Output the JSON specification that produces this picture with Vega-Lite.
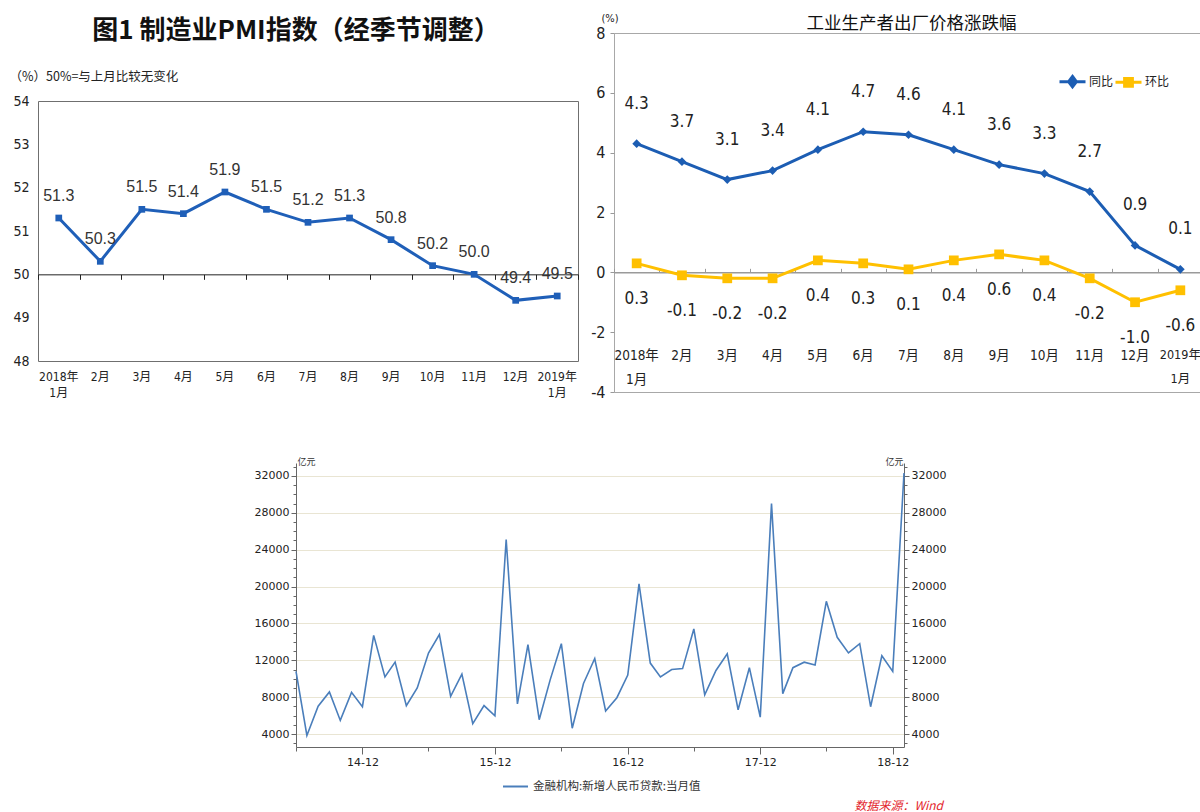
{
  "$schema": "https://vega.github.io/schema/vega-lite/v6.json",
  "background": "white",
  "padding": {"left": 8, "top": 11, "right": 0, "bottom": 0},
  "config": {
    "view": {"stroke": null},
    "font": "Noto Sans CJK SC",
    "axis": {"titleFontWeight": "normal"},
    "locale": {"number": {"decimal": ".", "thousands": ",", "grouping": [3], "currency": ["", ""], "minus": "-"}}
  },
  "datasets": {
    "pmi": [
      {"m": "2018年|1月", "v": 51.3},
      {"m": "2月", "v": 50.3},
      {"m": "3月", "v": 51.5},
      {"m": "4月", "v": 51.4},
      {"m": "5月", "v": 51.9},
      {"m": "6月", "v": 51.5},
      {"m": "7月", "v": 51.2},
      {"m": "8月", "v": 51.3},
      {"m": "9月", "v": 50.8},
      {"m": "10月", "v": 50.2},
      {"m": "11月", "v": 50.0},
      {"m": "12月", "v": 49.4},
      {"m": "2019年|1月", "v": 49.5}
    ],
    "ppi": [
      {"m": "2018年|1月", "s": "同比", "v": 4.3},
      {"m": "2月", "s": "同比", "v": 3.7},
      {"m": "3月", "s": "同比", "v": 3.1},
      {"m": "4月", "s": "同比", "v": 3.4},
      {"m": "5月", "s": "同比", "v": 4.1},
      {"m": "6月", "s": "同比", "v": 4.7},
      {"m": "7月", "s": "同比", "v": 4.6},
      {"m": "8月", "s": "同比", "v": 4.1},
      {"m": "9月", "s": "同比", "v": 3.6},
      {"m": "10月", "s": "同比", "v": 3.3},
      {"m": "11月", "s": "同比", "v": 2.7},
      {"m": "12月", "s": "同比", "v": 0.9},
      {"m": "2019年|1月", "s": "同比", "v": 0.1},
      {"m": "2018年|1月", "s": "环比", "v": 0.3},
      {"m": "2月", "s": "环比", "v": -0.1},
      {"m": "3月", "s": "环比", "v": -0.2},
      {"m": "4月", "s": "环比", "v": -0.2},
      {"m": "5月", "s": "环比", "v": 0.4},
      {"m": "6月", "s": "环比", "v": 0.3},
      {"m": "7月", "s": "环比", "v": 0.1},
      {"m": "8月", "s": "环比", "v": 0.4},
      {"m": "9月", "s": "环比", "v": 0.6},
      {"m": "10月", "s": "环比", "v": 0.4},
      {"m": "11月", "s": "环比", "v": -0.2},
      {"m": "12月", "s": "环比", "v": -1.0},
      {"m": "2019年|1月", "s": "环比", "v": -0.6}
    ],
    "loans": [
      {"d": "2014/06/01", "v": 10800}, {"d": "2014/07/01", "v": 3852}, {"d": "2014/08/01", "v": 7025},
      {"d": "2014/09/01", "v": 8572}, {"d": "2014/10/01", "v": 5483}, {"d": "2014/11/01", "v": 8527},
      {"d": "2014/12/01", "v": 6973}, {"d": "2015/01/01", "v": 14708}, {"d": "2015/02/01", "v": 10200},
      {"d": "2015/03/01", "v": 11800}, {"d": "2015/04/01", "v": 7079}, {"d": "2015/05/01", "v": 9008},
      {"d": "2015/06/01", "v": 12793}, {"d": "2015/07/01", "v": 14800}, {"d": "2015/08/01", "v": 8096},
      {"d": "2015/09/01", "v": 10500}, {"d": "2015/10/01", "v": 5136}, {"d": "2015/11/01", "v": 7089},
      {"d": "2015/12/01", "v": 5978}, {"d": "2016/01/01", "v": 25100}, {"d": "2016/02/01", "v": 7266},
      {"d": "2016/03/01", "v": 13700}, {"d": "2016/04/01", "v": 5556}, {"d": "2016/05/01", "v": 9855},
      {"d": "2016/06/01", "v": 13800}, {"d": "2016/07/01", "v": 4636}, {"d": "2016/08/01", "v": 9487},
      {"d": "2016/09/01", "v": 12200}, {"d": "2016/10/01", "v": 6513}, {"d": "2016/11/01", "v": 7946},
      {"d": "2016/12/01", "v": 10400}, {"d": "2017/01/01", "v": 20300}, {"d": "2017/02/01", "v": 11700},
      {"d": "2017/03/01", "v": 10200}, {"d": "2017/04/01", "v": 11000}, {"d": "2017/05/01", "v": 11100},
      {"d": "2017/06/01", "v": 15400}, {"d": "2017/07/01", "v": 8255}, {"d": "2017/08/01", "v": 10900},
      {"d": "2017/09/01", "v": 12700}, {"d": "2017/10/01", "v": 6632}, {"d": "2017/11/01", "v": 11200},
      {"d": "2017/12/01", "v": 5844}, {"d": "2018/01/01", "v": 29000}, {"d": "2018/02/01", "v": 8393},
      {"d": "2018/03/01", "v": 11200}, {"d": "2018/04/01", "v": 11800}, {"d": "2018/05/01", "v": 11500},
      {"d": "2018/06/01", "v": 18400}, {"d": "2018/07/01", "v": 14500}, {"d": "2018/08/01", "v": 12800},
      {"d": "2018/09/01", "v": 13800}, {"d": "2018/10/01", "v": 6970}, {"d": "2018/11/01", "v": 12500},
      {"d": "2018/12/01", "v": 10800}, {"d": "2019/01/01", "v": 32300}
    ]
  },
  "spacing": 56,
  "center": true,
  "resolve": {"scale": {"color": "independent"}, "legend": {"color": "independent"}},
  "vconcat": [
    {
      "spacing": 11,
      "resolve": {"scale": {"color": "independent"}, "legend": {"color": "independent"}},
      "hconcat": [
        {
          "spacing": 25,
          "vconcat": [
            {
              "width": 540,
              "height": 10,
              "view": {"stroke": null},
              "title": {
                "text": "图1 制造业PMI指数（经季节调整）",
                "font": "Noto Sans CJK SC",
                "fontSize": 26,
                "fontWeight": "bold",
                "color": "#111111",
                "anchor": "middle",
                "frame": "group",
                "dx": -12,
                "offset": -11
              },
              "data": {"values": []},
              "mark": {"type": "text"},
              "encoding": {}
            },
            {
              "width": 540,
              "height": 260,
              "view": {"stroke": "#6f6f6f", "strokeWidth": 1},
              "data": {"name": "pmi"},
              "layer": [
                {
                  "mark": {
                    "type": "line",
                    "color": "#1F5FB8",
                    "strokeWidth": 3,
                    "point": {"shape": "square", "size": 45, "filled": true, "color": "#1F5FB8"}
                  },
                  "encoding": {
                    "x": {
                      "field": "m",
                      "type": "nominal",
                      "sort": null,
                      "scale": {"type": "band", "paddingInner": 0, "paddingOuter": 0},
                      "axis": {
                        "orient": "bottom",
                        "title": null,
                        "domain": false,
                        "ticks": false,
                        "labelAngle": 0,
                        "labelExpr": "split(datum.value, '|')",
                        "labelFont": "Liberation Sans Narrow, DejaVu Sans Condensed, Noto Sans CJK SC, sans-serif",
                        "labelFontSize": 12,
                        "labelColor": "#222222",
                        "labelBaseline": "top",
                        "labelLineHeight": 16,
                        "labelPadding": 10
                      }
                    },
                    "y": {
                      "field": "v",
                      "type": "quantitative",
                      "scale": {"domain": [48, 54], "nice": false, "zero": false},
                      "axis": {
                        "values": [48, 49, 50, 51, 52, 53, 54],
                        "grid": false,
                        "domain": false,
                        "ticks": false,
                        "labelFont": "Liberation Sans Narrow, DejaVu Sans Condensed, sans-serif",
                        "labelFontSize": 14,
                        "labelColor": "#222222",
                        "labelPadding": 9,
                        "title": "（%）50%=与上月比较无变化",
                        "titleFont": "Noto Sans CJK SC",
                        "titleFontSize": 12.5,
                        "titleColor": "#222222",
                        "titleAngle": 0,
                        "titleAlign": "left",
                        "titleBaseline": "middle",
                        "titleX": -29,
                        "titleY": -25
                      }
                    }
                  }
                },
                {
                  "mark": {"type": "text", "dy": -22, "font": "Liberation Sans, Arial, sans-serif", "fontSize": 16, "color": "#333333"},
                  "encoding": {
                    "x": {
                      "field": "m",
                      "type": "nominal",
                      "sort": null,
                      "axis": {
                        "orient": "bottom",
                        "offset": -86.67,
                        "title": null,
                        "labels": false,
                        "domain": true,
                        "domainColor": "#222222",
                        "domainWidth": 1,
                        "ticks": true,
                        "tickBand": "extent",
                        "tickSize": 5,
                        "tickColor": "#222222"
                      }
                    },
                    "y": {"field": "v", "type": "quantitative"},
                    "text": {"field": "v", "type": "quantitative", "format": ".1f"}
                  }
                }
              ],
              "resolve": {"axis": {"x": "independent"}}
            }
          ]
        },
        {
          "width": 589,
          "height": 359,
          "view": {"stroke": "#a8a8a8", "strokeWidth": 1},
          "title": {
            "text": "工业生产者出厂价格涨跌幅",
            "font": "Noto Sans CJK SC",
            "fontSize": 17.5,
            "fontWeight": "normal",
            "color": "#111111",
            "anchor": "middle",
            "frame": "group",
            "dx": 3,
            "offset": -20
          },
          "data": {"name": "ppi"},
          "layer": [
            {
              "mark": {"type": "line", "strokeWidth": 3},
              "encoding": {
                "x": {
                  "field": "m",
                  "type": "nominal",
                  "sort": null,
                  "scale": {"type": "band", "paddingInner": 0, "paddingOuter": 0},
                  "axis": {
                    "orient": "bottom",
                    "offset": -44,
                    "title": null,
                    "domain": false,
                    "ticks": false,
                    "labelAngle": 0,
                    "labelExpr": "split(datum.value, '|')",
                    "labelFont": "Liberation Sans Narrow, DejaVu Sans Condensed, Noto Sans CJK SC, sans-serif",
                    "labelFontSize": {"condition": {"test": "datum.value === '2019年|1月'", "value": 12.5}, "value": 13.5},
                    "labelColor": "#222222",
                    "labelBaseline": "top",
                    "labelLineHeight": 24,
                    "labelPadding": 0
                  }
                },
                "y": {
                  "field": "v",
                  "type": "quantitative",
                  "scale": {"domain": [-4, 8], "nice": false, "zero": false},
                  "axis": {
                    "values": [-4, -2, 0, 2, 4, 6, 8],
                    "grid": false,
                    "domain": false,
                    "ticks": true,
                    "tickSize": 4,
                    "tickColor": "#999999",
                    "labelFont": "Liberation Sans Narrow, DejaVu Sans Condensed, sans-serif",
                    "labelFontSize": 16,
                    "labelColor": "#222222",
                    "labelPadding": 5,
                    "title": "(%)",
                    "titleFont": "Liberation Sans Narrow, DejaVu Sans Condensed, sans-serif",
                    "titleFontSize": 11,
                    "titleColor": "#222222",
                    "titleAngle": 0,
                    "titleAlign": "left",
                    "titleBaseline": "middle",
                    "titleX": -13,
                    "titleY": -15
                  }
                },
                "color": {
                  "field": "s",
                  "type": "nominal",
                  "scale": {"domain": ["同比", "环比"], "range": ["#1C5DB3", "#FFC000"]},
                  "legend": {
                    "orient": "none",
                    "legendX": 444,
                    "legendY": 34,
                    "direction": "horizontal",
                    "title": null,
                    "symbolSize": 676,
                    "symbolStrokeWidth": 3,
                    "columnPadding": -6,
                    "labelOffset": 2,
                    "labelFont": "Noto Sans CJK SC",
                    "labelFontSize": 12,
                    "labelColor": "#222222",
                    "encode": {
                      "symbols": {
                        "update": {
                          "shape": {"signal": "datum.value === '同比' ? 'M-1,0H1M0,-0.4L0.3,0L0,0.4L-0.3,0Z' : 'M-1,0H1M-0.3,-0.3H0.3V0.3H-0.3Z'"},
                          "fill": {"signal": "datum.value === '同比' ? '#1C5DB3' : '#FFC000'"},
                          "stroke": {"signal": "datum.value === '同比' ? '#1C5DB3' : '#FFC000'"},
                          "strokeWidth": {"value": 3},
                          "opacity": {"value": 1}
                        }
                      }
                    }
                  }
                }
              }
            },
            {
              "transform": [{"filter": "datum.s === '同比'"}],
              "mark": {"type": "point", "shape": "diamond", "filled": true, "opacity": 1, "size": 75, "color": "#1C5DB3"},
              "encoding": {
                "x": {"field": "m", "type": "nominal", "sort": null, "axis": null},
                "y": {"field": "v", "type": "quantitative"}
              }
            },
            {
              "transform": [{"filter": "datum.s === '环比'"}],
              "mark": {"type": "point", "shape": "square", "filled": true, "opacity": 1, "size": 95, "color": "#FFC000"},
              "encoding": {
                "x": {"field": "m", "type": "nominal", "sort": null, "axis": null},
                "y": {"field": "v", "type": "quantitative"}
              }
            },
            {
              "transform": [{"filter": "datum.s === '同比'"}],
              "mark": {"type": "text", "dy": -40, "font": "Liberation Sans Narrow, DejaVu Sans Condensed, sans-serif", "fontSize": 17, "color": "#222222"},
              "encoding": {
                "x": {
                  "field": "m",
                  "type": "nominal",
                  "sort": null,
                  "axis": {
                    "orient": "top",
                    "offset": -239.33,
                    "title": null,
                    "labels": false,
                    "domain": true,
                    "domainColor": "#9a9a9a",
                    "domainWidth": 1.5,
                    "ticks": true,
                    "tickBand": "extent",
                    "tickSize": 4,
                    "tickColor": "#9a9a9a"
                  }
                },
                "y": {"field": "v", "type": "quantitative"},
                "text": {"field": "v", "type": "quantitative", "format": ".1f"}
              }
            },
            {
              "transform": [{"filter": "datum.s === '环比'"}],
              "mark": {"type": "text", "dy": 36, "font": "Liberation Sans Narrow, DejaVu Sans Condensed, sans-serif", "fontSize": 17, "color": "#222222"},
              "encoding": {
                "x": {"field": "m", "type": "nominal", "sort": null, "axis": null},
                "y": {"field": "v", "type": "quantitative"},
                "text": {"field": "v", "type": "quantitative", "format": ".1f"}
              }
            }
          ],
          "resolve": {"axis": {"x": "independent"}}
        }
      ]
    },
    {
      "width": 608,
      "height": 284,
      "view": {"stroke": null},
      "title": {
        "text": "数据来源：Wind",
        "orient": "bottom",
        "anchor": "end",
        "frame": "group",
        "font": "Noto Sans CJK SC",
        "fontSize": 12,
        "fontStyle": "italic",
        "fontWeight": "normal",
        "color": "#E3262D",
        "dx": 39,
        "offset": 9
      },
      "data": {"name": "loans"},
      "layer": [
        {
          "mark": {"type": "line", "strokeWidth": 1.6},
          "encoding": {
            "x": {
              "field": "d",
              "type": "temporal",
              "scale": {"domain": [{"year": 2014, "month": 6, "date": 1}, {"year": 2019, "month": 1, "date": 1}]},
              "axis": {
                "title": null,
                "grid": false,
                "values": [
                  {"year": 2014, "month": 6, "date": 1}, {"year": 2014, "month": 9, "date": 1}, {"year": 2014, "month": 12, "date": 1},
                  {"year": 2015, "month": 3, "date": 1}, {"year": 2015, "month": 6, "date": 1}, {"year": 2015, "month": 9, "date": 1}, {"year": 2015, "month": 12, "date": 1},
                  {"year": 2016, "month": 3, "date": 1}, {"year": 2016, "month": 6, "date": 1}, {"year": 2016, "month": 9, "date": 1}, {"year": 2016, "month": 12, "date": 1},
                  {"year": 2017, "month": 3, "date": 1}, {"year": 2017, "month": 6, "date": 1}, {"year": 2017, "month": 9, "date": 1}, {"year": 2017, "month": 12, "date": 1},
                  {"year": 2018, "month": 3, "date": 1}, {"year": 2018, "month": 6, "date": 1}, {"year": 2018, "month": 9, "date": 1}, {"year": 2018, "month": 12, "date": 1}
                ],
                "labelExpr": "month(datum.value) == 11 ? timeFormat(datum.value, '%y-%m') : ''",
                "labelFont": "DejaVu Sans, Verdana, sans-serif",
                "labelFontSize": 11,
                "labelColor": "#222222",
                "labelPadding": 2,
                "labelFlush": false,
                "labelOverlap": false,
                "domainColor": "#666666",
                "tickColor": "#666666",
                "tickSize": {"condition": {"test": "month(datum.value) == 11", "value": 7}, "value": 4}
              }
            },
            "y": {
              "field": "v",
              "type": "quantitative",
              "scale": {"domain": [2600, 33400], "nice": false, "zero": false},
              "axis": {
                "orient": "left",
                "values": [3000, 4000, 5000, 6000, 7000, 8000, 9000, 10000, 11000, 12000, 13000, 14000, 15000, 16000, 17000, 18000, 19000, 20000, 21000, 22000, 23000, 24000, 25000, 26000, 27000, 28000, 29000, 30000, 31000, 32000, 33000],
                "format": "d",
                "labelExpr": "datum.value % 4000 == 0 ? datum.label : ''",
                "labelFont": "DejaVu Sans, Verdana, sans-serif",
                "labelFontSize": 11,
                "labelColor": "#222222",
                "labelPadding": 2,
                "labelOverlap": false,
                "domainColor": "#666666",
                "tickColor": "#666666",
                "tickSize": {"condition": {"test": "datum.value % 4000 == 0", "value": 5}, "value": 3},
                "grid": true,
                "gridColor": "#E9E5D3",
                "gridWidth": 1,
                "gridOpacity": {"condition": {"test": "datum.value % 4000 == 0", "value": 1}, "value": 0},
                "title": "亿元",
                "titleFont": "Noto Sans CJK SC",
                "titleFontSize": 9,
                "titleColor": "#333333",
                "titleAngle": 0,
                "titleAlign": "left",
                "titleBaseline": "bottom",
                "titleX": 1,
                "titleY": 3
              }
            },
            "color": {
              "datum": "金融机构:新增人民币贷款:当月值",
              "type": "nominal",
              "scale": {"range": ["#4A7EBB"]},
              "legend": {
                "orient": "none",
                "legendX": 206,
                "legendY": 310,
                "title": null,
                "symbolType": "stroke",
                "symbolSize": 625,
                "symbolStrokeWidth": 2,
                "labelOffset": 4,
                "labelLimit": 0,
                "labelFont": "Noto Sans CJK SC",
                "labelFontSize": 11.5,
                "labelColor": "#333333"
              }
            }
          }
        },
        {
          "mark": {"type": "line", "opacity": 0},
          "encoding": {
            "x": {"field": "d", "type": "temporal"},
            "y": {
              "field": "v",
              "type": "quantitative",
              "axis": {
                "orient": "right",
                "values": [3000, 4000, 5000, 6000, 7000, 8000, 9000, 10000, 11000, 12000, 13000, 14000, 15000, 16000, 17000, 18000, 19000, 20000, 21000, 22000, 23000, 24000, 25000, 26000, 27000, 28000, 29000, 30000, 31000, 32000, 33000],
                "format": "d",
                "labelExpr": "datum.value % 4000 == 0 ? datum.label : ''",
                "labelFont": "DejaVu Sans, Verdana, sans-serif",
                "labelFontSize": 11,
                "labelColor": "#222222",
                "labelPadding": 2,
                "labelOverlap": false,
                "domainColor": "#666666",
                "tickColor": "#666666",
                "tickSize": {"condition": {"test": "datum.value % 4000 == 0", "value": 5}, "value": 3},
                "grid": false,
                "title": "亿元",
                "titleFont": "Noto Sans CJK SC",
                "titleFontSize": 9,
                "titleColor": "#333333",
                "titleAngle": 0,
                "titleAlign": "right",
                "titleBaseline": "bottom",
                "titleX": -1,
                "titleY": 3
              }
            }
          }
        }
      ],
      "resolve": {"axis": {"y": "independent"}}
    }
  ]
}
